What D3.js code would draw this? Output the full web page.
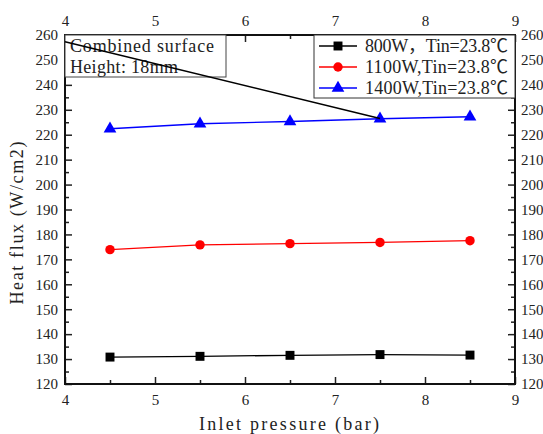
<!DOCTYPE html>
<html>
<head>
<meta charset="utf-8">
<script src="https://cdn.jsdelivr.net/npm/d3@7"></script>
<style>
  body { margin: 0; background: #fff; }
  svg text { font-family: "Liberation Serif", "Noto Sans CJK SC", serif; fill: #222; }
</style>
</head>
<body>
<svg id="chart" width="543" height="434"></svg>
<script>
// data
const pressure = [4.5, 5.5, 6.5, 7.5, 8.5];
const flux800 = [130.8, 131.1, 131.5, 131.8, 131.6];
const flux1100 = [173.9, 175.8, 176.3, 176.8, 177.5];
const flux1400 = [222.4, 224.4, 225.3, 226.4, 227.2];
const seriesNames = ["800W，Tin=23.8℃", "1100W,Tin=23.8℃", "1400W,Tin=23.8℃"];
const xTicks = [4, 5, 6, 7, 8, 9];
const yTicks = [120, 130, 140, 150, 160, 170, 180, 190, 200, 210, 220, 230, 240, 250, 260];
const noteLines = ["Combined surface", "Height: 18mm"];
const pointerX = [4, 7.5];
const pointerY = [257.3, 226.5];

const width = 543, height = 434;
const margin = { top: 35, right: 28, bottom: 50, left: 65 };
const innerW = width - margin.left - margin.right;
const innerH = height - margin.top - margin.bottom;

const svg = d3.select("#chart");
const g = svg.append("g").attr("transform", `translate(${margin.left},${margin.top})`);

const x = d3.scaleLinear().domain([4, 9]).range([0, innerW]);
const y = d3.scaleLinear().domain([120, 260]).range([innerH, 0]);

const series = [
  { name: seriesNames[0], values: flux800, color: "#000", shape: d3.symbolSquare, size: 80 },
  { name: seriesNames[1], values: flux1100, color: "#ff0000", shape: d3.symbolCircle, size: 70 },
  { name: seriesNames[2], values: flux1400, color: "#0000ff", shape: d3.symbolTriangle, size: 70 },
];

// minor ticks at the halves
const xMinor = xTicks.slice(0, -1).map((d) => d + 0.5);
const yMinor = yTicks.slice(0, -1).map((d) => d + 5);

const styleAxis = (sel) => {
  sel.attr("font-family", null).attr("font-size", null);
  sel.selectAll(".domain").remove();
  sel.selectAll(".tick line").attr("stroke", "#222").attr("stroke-width", 1.5);
  sel.selectAll("text").attr("font-size", 15);
};

// major ticks, drawn inward
const axBottom = g.append("g").attr("transform", `translate(0,${innerH})`)
  .call(d3.axisBottom(x).tickValues(xTicks).tickFormat(d3.format("d")).tickSizeInner(-7).tickPadding(10));
const axTop = g.append("g")
  .call(d3.axisTop(x).tickValues(xTicks).tickFormat(d3.format("d")).tickSizeInner(-7).tickPadding(9));
const axLeft = g.append("g")
  .call(d3.axisLeft(y).tickValues(yTicks).tickFormat(d3.format("d")).tickSizeInner(-7).tickPadding(7));
const axRight = g.append("g").attr("transform", `translate(${innerW},0)`)
  .call(d3.axisRight(y).tickValues(yTicks).tickFormat(d3.format("d")).tickSizeInner(-7).tickPadding(6));
[axBottom, axTop, axLeft, axRight].forEach(styleAxis);

// minor ticks
g.append("g").attr("transform", `translate(0,${innerH})`)
  .call(d3.axisBottom(x).tickValues(xMinor).tickFormat("").tickSizeInner(-4)).call(styleAxis);
g.append("g")
  .call(d3.axisTop(x).tickValues(xMinor).tickFormat("").tickSizeInner(-4)).call(styleAxis);
g.append("g")
  .call(d3.axisLeft(y).tickValues(yMinor).tickFormat("").tickSizeInner(-4)).call(styleAxis);
g.append("g").attr("transform", `translate(${innerW},0)`)
  .call(d3.axisRight(y).tickValues(yMinor).tickFormat("").tickSizeInner(-4)).call(styleAxis);

// frame
g.append("rect").attr("width", innerW).attr("height", innerH)
  .attr("fill", "none").attr("stroke", "#111").attr("stroke-width", 2);

// series
const line = d3.line().x((d) => x(d[0])).y((d) => y(d[1]));
series.forEach((s) => {
  const pts = pressure.map((p, i) => [p, s.values[i]]);
  g.append("path").attr("d", line(pts)).attr("fill", "none")
    .attr("stroke", s.color).attr("stroke-width", 1.3);
  g.selectAll(null).data(pts).enter().append("path")
    .attr("d", d3.symbol().type(s.shape).size(s.size))
    .attr("transform", (d) => `translate(${x(d[0])},${y(d[1])})`)
    .attr("fill", s.color);
});

// note box
const note = g.append("g");
note.append("rect").attr("x", 0).attr("y", 0).attr("width", 161).attr("height", 42)
  .attr("fill", "#fff").attr("stroke", "#444").attr("stroke-width", 1);
note.selectAll("text").data(noteLines).enter().append("text")
  .attr("x", 5).attr("y", (d, i) => 17 + i * 21)
  .attr("font-size", 18)
  .attr("textLength", (d) => d.length * 9)
  .attr("lengthAdjust", "spacing")
  .text((d) => d);

// legend
const legend = g.append("g").attr("transform", `translate(${innerW - 201},0)`);
legend.append("rect").attr("width", 201).attr("height", 63)
  .attr("fill", "#fff").attr("stroke", "#333").attr("stroke-width", 1);
series.forEach((s, i) => {
  const row = legend.append("g").attr("transform", `translate(0,${11 + i * 21})`);
  row.append("line").attr("x1", 5).attr("x2", 43).attr("stroke", s.color).attr("stroke-width", 1.3);
  row.append("path").attr("d", d3.symbol().type(s.shape).size(s.size)())
    .attr("transform", "translate(24,0)").attr("fill", s.color);
  row.append("text").attr("x", 51).attr("y", 6).attr("font-size", 18)
    .attr("textLength", 143).attr("lengthAdjust", "spacing")
    .text(s.name);
});

// pointer line
g.append("path")
  .attr("d", line(pointerX.map((p, i) => [p, pointerY[i]])))
  .attr("stroke", "#000").attr("stroke-width", 1.5).attr("fill", "none");

// axis titles
svg.append("text").attr("x", margin.left + innerW / 2 - 1).attr("y", 430)
  .attr("text-anchor", "middle").attr("font-size", 18)
  .attr("textLength", 180).attr("lengthAdjust", "spacing")
  .text("Inlet pressure (bar)");
svg.append("text")
  .attr("transform", `translate(23,${223}) rotate(-90)`)
  .attr("text-anchor", "middle").attr("font-size", 18)
  .attr("textLength", 163).attr("lengthAdjust", "spacing")
  .text("Heat flux (W/cm2)");
</script>
</body>
</html>
